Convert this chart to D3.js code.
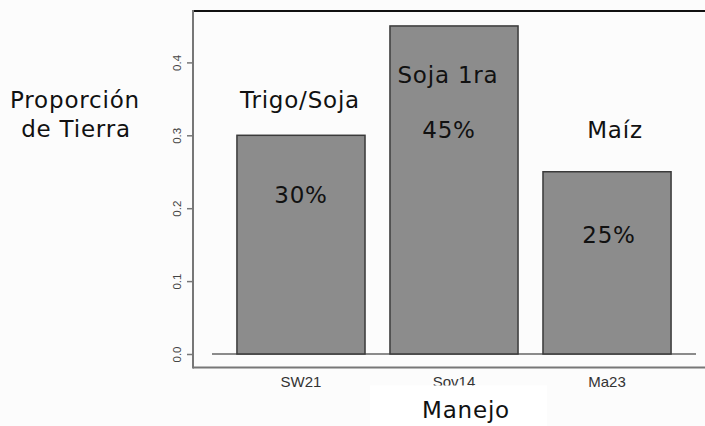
<!DOCTYPE html>
<html><head><meta charset="utf-8">
<script src="https://cdn.jsdelivr.net/npm/d3@7"></script>
<style>body{margin:0;background:#fcfcfc}svg{display:block}</style>
</head><body>
<svg id="c" width="705" height="426"></svg>
<script>
const categories = ["SW21", "Sov14", "Ma23"];
const values = [0.30, 0.45, 0.25];
const cropNames = ["Trigo/Soja", "Soja 1ra", "Maíz"];
const pctLabels = ["30%", "45%", "25%"];
const yTicks = [0.0, 0.1, 0.2, 0.3, 0.4];
const yTickLabels = ["0.0", "0.1", "0.2", "0.3", "0.4"];

const svg = d3.select("#c");
svg.append("rect").attr("width",705).attr("height",426).attr("fill","#fcfcfc");

const x = d3.scaleBand().domain(categories).range([212, 696]).paddingInner(0.163).paddingOuter(0.163);
const y = d3.scaleLinear().domain([0, 0.4]).range([354, 62.4]);

const main = "DejaVu Sans, Verdana, sans-serif";
const axf = "Liberation Sans, Arial, sans-serif";
const fs = 23, ls = "0.8px";

// frame
svg.append("line").attr("x1",193).attr("x2",705).attr("y1",11).attr("y2",11).attr("stroke","#111").attr("stroke-width",2);
svg.append("line").attr("x1",193).attr("x2",705).attr("y1",367.5).attr("y2",367.5).attr("stroke","#777").attr("stroke-width",2);
svg.append("line").attr("x1",193).attr("x2",193).attr("y1",10).attr("y2",368.5).attr("stroke","#777").attr("stroke-width",2);

// baseline
svg.append("line").attr("x1",212).attr("x2",696).attr("y1",y(0)).attr("y2",y(0)).attr("stroke","#666").attr("stroke-width",1.5);

// bars
svg.selectAll("rect.bar").data(values).join("rect").attr("class","bar")
  .attr("x",(d,i)=>x(categories[i])).attr("width",x.bandwidth())
  .attr("y",d=>y(d)).attr("height",d=>y(0)-y(d))
  .attr("fill","#8c8c8c").attr("stroke","#3a3a3a").attr("stroke-width",1.5);

// y axis
const ax = d3.axisLeft(y).tickValues(yTicks).tickFormat((d,i)=>yTickLabels[i]).tickSize(6).tickPadding(3);
const g = svg.append("g").attr("transform","translate(193,0)").call(ax);
g.select(".domain").remove();
g.selectAll(".tick line").attr("stroke","#777").attr("stroke-width",1.5);
g.selectAll(".tick text").attr("font-family",axf).attr("font-size",11.5).attr("fill","#444")
  .attr("text-anchor","middle").attr("x",0).attr("y",0).attr("dy","0")
  .attr("transform","translate(-12,0) rotate(-90)");

// x labels
svg.selectAll("text.xl").data(categories).join("text").attr("class","xl")
  .attr("x",d=>x(d)+x.bandwidth()/2).attr("y",387).attr("text-anchor","middle")
  .attr("font-family",axf).attr("font-size",15).attr("fill","#333").text(d=>d);

// white box behind Manejo
svg.append("rect").attr("x",370).attr("y",385.5).attr("width",177).attr("height",41).attr("fill","#ffffff");

// crop labels
const cropDX = [-1, -6, 8];
const cropY = [108, 83, 138];
const pctDX = [0, -5, 2];
const pctY = [203, 138, 243];
function lbl(t, xx, yy){
  svg.append("text").attr("x",xx).attr("y",yy).attr("text-anchor","middle")
    .attr("font-family",main).attr("font-size",fs).attr("letter-spacing",ls).attr("fill","#111").text(t);
}
cropNames.forEach((t,i)=>lbl(t, x(categories[i])+x.bandwidth()/2+cropDX[i], cropY[i]));
pctLabels.forEach((t,i)=>lbl(t, x(categories[i])+x.bandwidth()/2+pctDX[i], pctY[i]));

// axis titles
lbl("Proporción", 75, 108);
lbl("de Tierra", 76, 137);
lbl("Manejo", 466, 418);
</script>
</body></html>
